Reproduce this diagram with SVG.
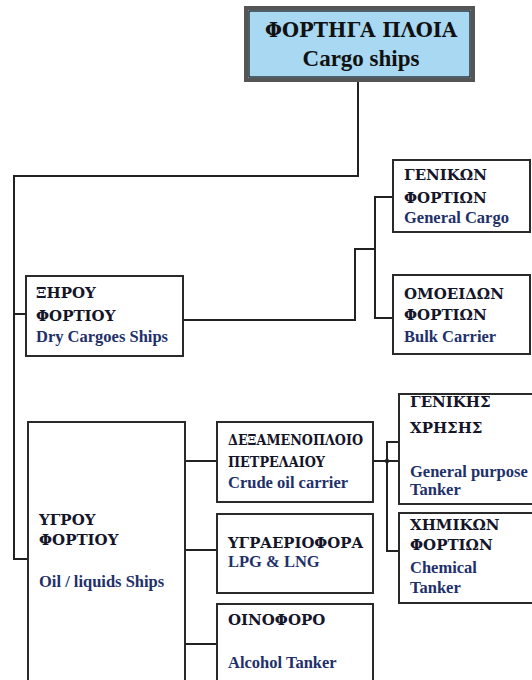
<svg xmlns="http://www.w3.org/2000/svg" width="532" height="680" viewBox="0 0 532 680">
<style>
.box{fill:#fff;stroke:#2a2a2a;stroke-width:2}
.gr{font-family:"DejaVu Serif","Liberation Serif",serif;font-weight:bold;font-size:15px;fill:#15152a}
.en{font-family:"Liberation Serif",serif;font-weight:bold;font-size:16.5px;fill:#22306a}
.ln{fill:none;stroke:#222;stroke-width:2}
.tg{font-family:"DejaVu Serif","Liberation Serif",serif;font-weight:bold;font-size:19.5px;fill:#111;text-anchor:middle}
.te{font-family:"Liberation Serif",serif;font-weight:bold;font-size:23px;fill:#111;text-anchor:middle}
</style>
<rect width="532" height="680" fill="#fff"/>
<g id="connectors">
<path class="ln" d="M358,80 V176 H14 V559 H28"/>
<path class="ln" d="M14,314 H26"/>
<path class="ln" d="M183,320 H355 V249 H375"/>
<path class="ln" d="M393,197 H375 V318 H393"/>
<path class="ln" d="M185,461 H217"/>
<path class="ln" d="M185,550 H217"/>
<path class="ln" d="M185,644 H217"/>
<path class="ln" d="M373,461 H399"/>
<path class="ln" d="M399,442 H387 V551 H399"/>
<circle cx="387" cy="461" r="2.2" fill="#222"/>
</g>
<g id="cargo-ships">
<rect x="246" y="8" width="227" height="72" fill="#a8d8f2" stroke="#555" stroke-width="4"/>
<rect x="249" y="11" width="221" height="66" fill="none" stroke="#111" stroke-width="1.2"/>
<text class="tg" x="361" y="37">ΦΟΡΤΗΓΑ ΠΛΟΙΑ</text>
<text class="te" x="361" y="66">Cargo ships</text>
</g>
<g id="dry">
<rect class="box" x="26" y="276" width="157" height="80"/>
<text class="gr" x="36" y="298">ΞΗΡΟΥ</text>
<text class="gr" x="36" y="321">ΦΟΡΤΙΟΥ</text>
<text class="en" x="36" y="342">Dry Cargoes Ships</text>
</g>
<g id="general-cargo">
<rect class="box" x="393" y="160" width="137" height="72"/>
<text class="gr" x="404" y="180">ΓΕΝΙΚΩΝ</text>
<text class="gr" x="404" y="203">ΦΟΡΤΙΩΝ</text>
<text class="en" x="404" y="223">General Cargo</text>
</g>
<g id="bulk">
<rect class="box" x="393" y="275" width="137" height="79"/>
<text class="gr" x="404" y="299">ΟΜΟΕΙΔΩΝ</text>
<text class="gr" x="404" y="320">ΦΟΡΤΙΩΝ</text>
<text class="en" x="404" y="342">Bulk Carrier</text>
</g>
<g id="liquids">
<rect class="box" x="28" y="422" width="157" height="270"/>
<text class="gr" x="39" y="525">ΥΓΡΟΥ</text>
<text class="gr" x="39" y="545">ΦΟΡΤΙΟΥ</text>
<text class="en" x="39" y="587">Oil / liquids Ships</text>
</g>
<g id="crude">
<rect class="box" x="217" y="422" width="156" height="80"/>
<text class="gr" x="228" y="445" textLength="135" lengthAdjust="spacingAndGlyphs">ΔΕΞΑΜΕΝΟΠΛΟΙΟ</text>
<text class="gr" x="228" y="467" textLength="97" lengthAdjust="spacingAndGlyphs">ΠΕΤΡΕΛΑΙΟΥ</text>
<text class="en" x="228" y="488">Crude oil carrier</text>
</g>
<g id="lpg">
<rect class="box" x="217" y="514" width="156" height="79"/>
<text class="gr" x="228" y="548" textLength="135" lengthAdjust="spacingAndGlyphs">ΥΓΡΑΕΡΙΟΦΟΡΑ</text>
<text class="en" x="228" y="567">LPG &amp; LNG</text>
</g>
<g id="alcohol">
<rect class="box" x="217" y="604" width="156" height="90"/>
<text class="gr" x="228" y="625">ΟΙΝΟΦΟΡΟ</text>
<text class="en" x="228" y="668">Alcohol Tanker</text>
</g>
<g id="general-purpose">
<rect class="box" x="399" y="394" width="145" height="110"/>
<text class="gr" x="410" y="407">ΓΕΝΙΚΗΣ</text>
<text class="gr" x="410" y="433">ΧΡΗΣΗΣ</text>
<text class="en" x="410" y="477">General purpose</text>
<text class="en" x="410" y="495">Tanker</text>
</g>
<g id="chemical">
<rect class="box" x="399" y="513" width="145" height="90"/>
<text class="gr" x="410" y="530">ΧΗΜΙΚΩΝ</text>
<text class="gr" x="410" y="550">ΦΟΡΤΙΩΝ</text>
<text class="en" x="410" y="573">Chemical</text>
<text class="en" x="410" y="593">Tanker</text>
</g>
</svg>
